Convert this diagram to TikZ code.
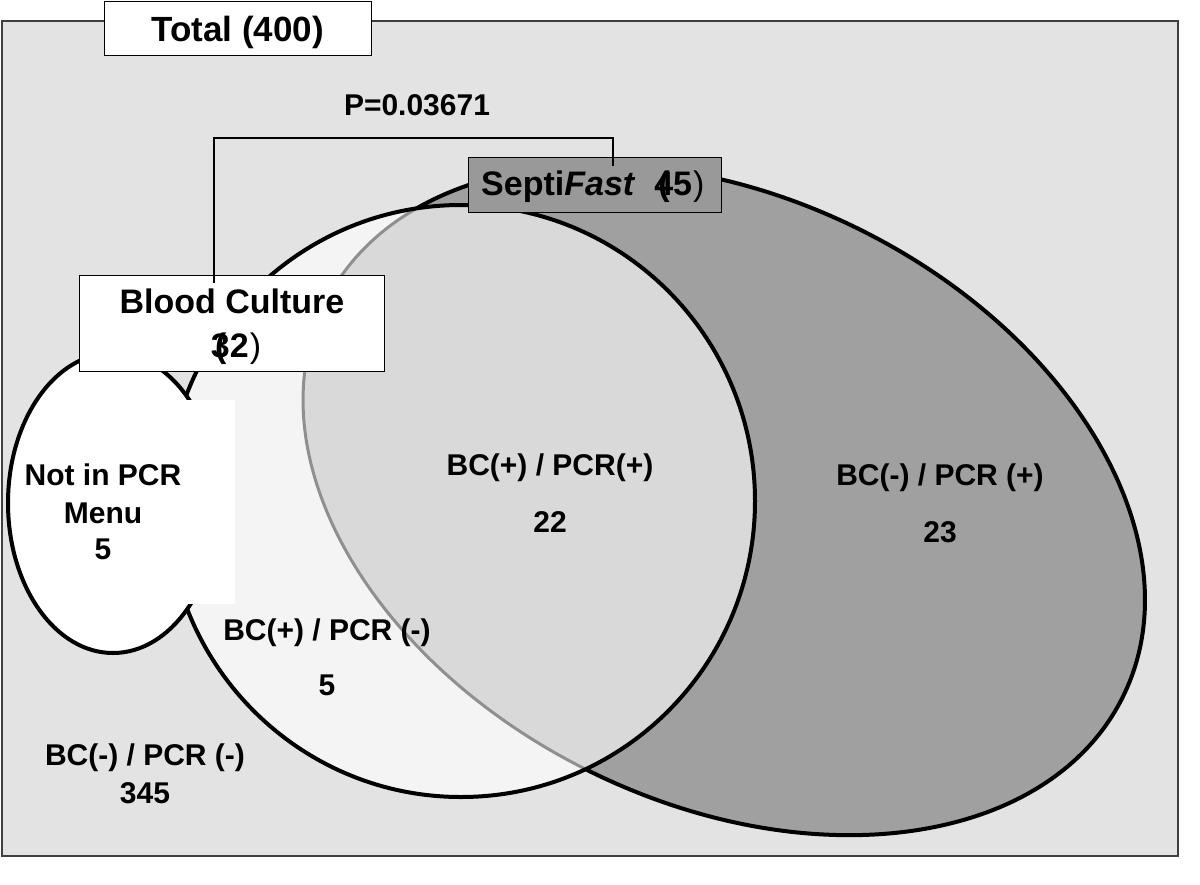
\documentclass[tikz,border=0pt]{standalone}
\usepackage{fontspec}
\setmainfont{Liberation Sans}
\usetikzlibrary{calc}
\definecolor{bg}{HTML}{E3E3E3}
\definecolor{sfgray}{HTML}{A0A0A0}
\definecolor{sfboxc}{HTML}{999999}
\definecolor{bcfill}{HTML}{F4F4F4}
\definecolor{ovl}{HTML}{D9D9D9}
\definecolor{ovlline}{HTML}{8F8F8F}
\definecolor{framec}{HTML}{404040}
\newcommand{\ovparen}{\makebox[0pt][l]{\kern0.12em(}}
\begin{document}
\begin{tikzpicture}[x=1pt,y=-1pt,
  lbl/.style={anchor=base, inner sep=0pt, font=\fontsize{30}{36}\selectfont\bfseries},
  biglbl/.style={anchor=base, inner sep=0pt, font=\fontsize{34}{40}\selectfont\bfseries},
  labelbox/.style={draw=black, line width=1.3pt, inner sep=0pt, anchor=north west},
  ring/.style={line width=4pt},
  sfrot/.style={rotate around={-26.2:(724,500)}}]
\useasboundingbox (0,0) rectangle (1200,884);
% frame
\draw[draw=framec, line width=2.5pt, fill=bg] (2,21) rectangle (1178,856);
% SeptiFast ellipse
\fill[sfgray, sfrot] (724,500) ellipse [x radius=444.8pt, y radius=302.7pt];
\draw[ring, sfrot] (724,500) ellipse [x radius=444.8pt, y radius=302.7pt];
% Blood culture ellipse
\fill[bcfill] (461,501) ellipse [x radius=294pt, y radius=296pt];
\begin{scope}
  \clip (461,501) ellipse [x radius=294pt, y radius=296pt];
  \fill[ovl, sfrot] (724,500) ellipse [x radius=444.8pt, y radius=302.7pt];
  \draw[ovlline, line width=3pt, sfrot] (724,500) ellipse [x radius=444.8pt, y radius=302.7pt];
\end{scope}
\draw[ring] (461,501) ellipse [x radius=294pt, y radius=296pt];
% Not in PCR menu ellipse
\draw[ring, fill=white] (113,503) ellipse [x radius=105pt, y radius=150pt];
\fill[white] (185,400) rectangle (235,604);
% boxes
\node[labelbox, fill=white, minimum width=267pt, minimum height=54pt] (totalbox) at (104,1) {};
\node[biglbl, font=\fontsize{35}{40}\selectfont\bfseries] (totaltxt) at (237.5,41) {Total (400)};
\node[labelbox, fill=white, minimum width=305pt, minimum height=96pt] (bcbox) at (79,275) {};
\node[labelbox, fill=sfboxc, minimum width=253pt, minimum height=55pt] (sfbox) at (468,157) {};
\node[biglbl] (bctxt1) at (232,313) {Blood Culture};
\node[biglbl] (bctxt2) at (236,357) {\ovparen 32\kern0.03em{\mdseries)}};
\node[biglbl, anchor=base west] (sftxt) at (481,195) {Septi\textit{Fast}\ \ \ovparen 45\kern0.03em{\mdseries)}};
% bracket
\coordinate (pl) at (214,138);
\coordinate (pr) at (613,138);
\draw[line width=1.3pt] ($(bcbox.north -| pl)+(0,8)$) -- (pl) -- (pr) -- ($(sfbox.north -| pr)+(0,9)$);
\node[lbl] (ptxt) at (417,115) {P=0.03671};
% region labels
\node[lbl] (mid1) at (550,475) {BC(+) / PCR(+)};
\node[lbl] (mid2) at (550,532) {22};
\node[lbl] (rt1) at (940,485) {BC(-) / PCR (+)};
\node[lbl] (rt2) at (940,542) {23};
\node[lbl] (lo1) at (327,640) {BC(+) / PCR (-)};
\node[lbl] (lo2) at (327,695) {5};
\node[lbl] (bl1) at (145,765) {BC(-) / PCR (-)};
\node[lbl] (bl2) at (145,803) {345};
\node[lbl] (nip1) at (103,485) {Not in PCR};
\node[lbl] (nip2) at (103,523) {Menu};
\node[lbl] (nip3) at (103,559) {5};
\end{tikzpicture}
\end{document}
